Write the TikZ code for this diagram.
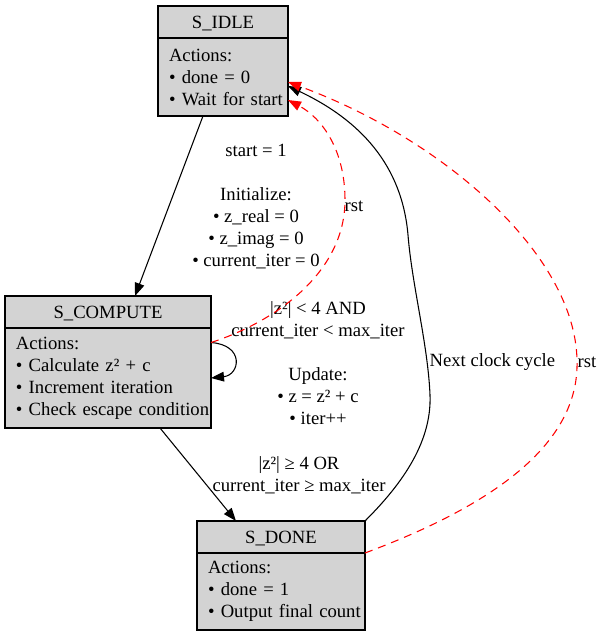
\documentclass[tikz,border=0pt]{standalone}
\usepackage{fontspec}
\setmainfont{Liberation Serif}
\usepackage{tikz}
\usetikzlibrary{positioning, arrows.meta}
\definecolor{boxgrey}{RGB}{211,211,211}
\definecolor{rstred}{RGB}{255,0,0}

\begin{document}
\begin{tikzpicture}[
  x=0.75pt, y=-0.75pt,
  font=\fontsize{14}{16.5}\selectfont,
  hdr/.style={draw=black, fill=boxgrey, line width=0.8pt, anchor=north west, outer sep=0pt,
              minimum height=24pt, inner sep=0pt, text height=10pt, text depth=0.5pt},
  body/.style={draw=black, fill=boxgrey, line width=0.8pt, align=left, outer sep=0pt,
               inner xsep=8.25pt, inner ysep=0pt,
               execute at begin node={\hyphenpenalty=10000\hbadness=10000\hfuzz=40pt}},
  lbl/.style={align=center, inner sep=1pt},
  arr/.style={-{Triangle[length=9.75pt, width=7.25pt]}, line width=0.8pt, draw=black},
  rarr/.style={arr, draw=rstred, dash pattern=on 6pt off 4.5pt}
]
\useasboundingbox (0,0) rectangle (600,636);

% states
\node[hdr, minimum width=97.5pt] (idle) at (158,6) {S\_IDLE};
\node[body, below=0pt of idle, text width=81pt, minimum height=58.5pt] (idlebody)
  {Actions:\\ • done = 0\\ •~Wait~for~start};

\node[hdr, minimum width=154.5pt] (comp) at (5,296) {S\_COMPUTE};
\node[body, below=0pt of comp, text width=138pt, minimum height=75pt] (compbody)
  {Actions:\\ • Calculate z² + c\\ • Increment iteration\\ •~Check~escape~condition};

\node[hdr, minimum width=126pt] (done) at (197,521) {S\_DONE};
\node[body, below=0pt of done, text width=109.5pt, minimum height=57.75pt] (donebody)
  {Actions:\\ • done = 1\\ •~Output~final~count};

% transitions
\draw[arr] ([xshift=-15pt]idlebody.south) -- ([xshift=20.25pt]comp.north);
\node[lbl] (lstart) at (256,207) {start = 1\\[16.5pt] Initialize:\\ • z\_real = 0\\ • z\_imag = 0\\ • current\_iter = 0};

\draw[arr] ([yshift=26.6pt]compbody.east) .. controls (245,345) and (240,375) .. (compbody.east);
\node[lbl] (lloop) at (318,363) {|z²| < 4 AND\\ current\_iter < max\_iter\\[16.5pt] Update:\\ • z = z² + c\\ • iter++};

\draw[arr] ([xshift=39pt]compbody.south) -- ([xshift=-33.75pt]done.north);
\node[lbl] (lescape) at (299,475) {|z²| ≥ 4 OR\\ current\_iter ≥ max\_iter};

\draw[arr] (done.north east) .. controls (398,488) and (432,445) .. (430,395)
  .. controls (428,345) and (412,285) .. (408,235)
  .. controls (402,165) and (360,120) .. ([yshift=-6.75pt]idlebody.east);
\node[lbl, anchor=west] (lnext) at (428,362) {Next clock cycle};

% reset
\draw[rarr] ([yshift=26.6pt]compbody.east) .. controls (280,320) and (345,270) .. (345,200)
  .. controls (345,150) and (322,118) .. ([yshift=-17.25pt]idlebody.east);
\node[lbl] (lrst1) at (354,206) {rst};

\draw[rarr] (donebody.north east) .. controls (480,510) and (580,450) .. (577,360)
  .. controls (575,255) and (445,140) .. ([yshift=-3.75pt]idlebody.east);
\node[lbl] (lrst2) at (587,362) {rst};

\end{tikzpicture}
\end{document}
